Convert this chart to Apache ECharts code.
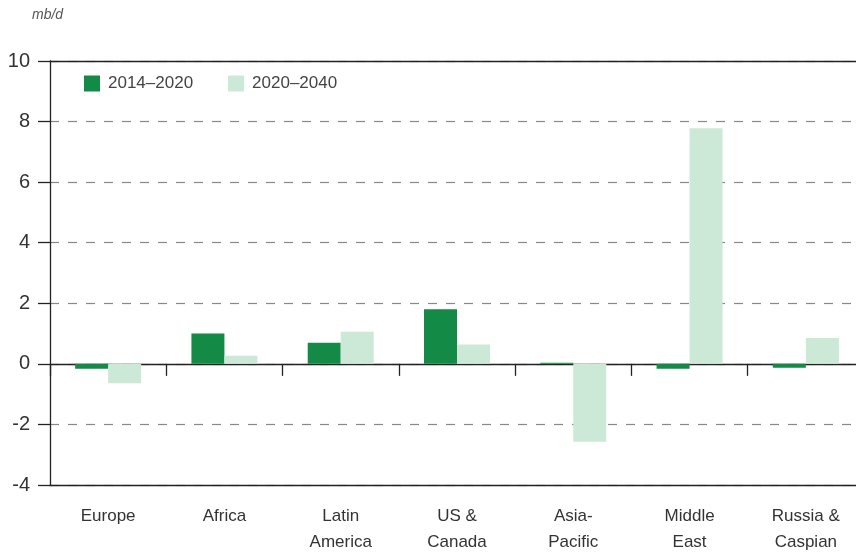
<!DOCTYPE html>
<html><head><meta charset="utf-8">
<script src="https://cdn.jsdelivr.net/npm/echarts@6/dist/echarts.min.js"></script>
<style>html,body{margin:0;padding:0;background:#fff}#c{width:856px;height:553px}</style>
</head><body><div id="c"></div>
<script>
const categories = ['Europe', 'Africa', 'Latin\nAmerica', 'US &\nCanada', 'Asia-\nPacific', 'Middle\nEast', 'Russia &\nCaspian'];
const seriesNames = ['2014–2020', '2020–2040'];
const values2014_2020 = [-0.16, 1.0, 0.7, 1.8, 0.04, -0.16, -0.13];
const values2020_2040 = [-0.64, 0.27, 1.06, 0.64, -2.57, 7.78, 0.85];
const yTicks = {min: -4, max: 10, interval: 2};
const unitLabel = 'mb/d';

const chart = echarts.init(document.getElementById('c'), null, {renderer: 'canvas'});
const font = 'Liberation Sans';
chart.setOption({
  animation: false,
  grid: {left: 50, top: 61, width: 814, height: 424, outerBoundsMode: 'none', containLabel: false},
  title: {text: unitLabel, left: 32, top: 8, padding: 0, textStyle: {fontFamily: font, fontStyle: 'italic', fontWeight: 'normal', fontSize: 14, color: '#555'}},
  legend: {
    left: 84, top: 75, padding: 0, itemWidth: 16, itemHeight: 16, itemGap: 35,
    icon: 'rect',
    textStyle: {fontFamily: font, fontSize: 17, color: '#444', padding: [0, 0, 0, 3]},
    data: seriesNames
  },
  xAxis: [
    {type: 'category', data: categories, axisLine: {onZero: true, lineStyle: {color: '#222', width: 1.3}},
     axisTick: {show: true, length: 12, lineStyle: {color: '#222', width: 1.3}}, axisLabel: {show: false}},
    {type: 'category', data: categories, position: 'bottom', axisLine: {onZero: false, lineStyle: {color: '#222', width: 1.3}},
     axisTick: {show: false},
     axisLabel: {show: true, margin: 18, fontFamily: font, fontSize: 17, color: '#333', lineHeight: 26, verticalAlign: 'top'}},
    {type: 'category', data: categories, position: 'top', axisLine: {onZero: false, lineStyle: {color: '#222', width: 1.3}},
     axisTick: {show: false}, axisLabel: {show: false}}
  ],
  yAxis: {
    type: 'value', min: yTicks.min, max: yTicks.max, interval: yTicks.interval,
    axisLine: {show: true, lineStyle: {color: '#222', width: 1.3}},
    axisTick: {show: true, length: 12, lineStyle: {color: '#222', width: 1.3}},
    axisLabel: {fontFamily: font, fontSize: 20, color: '#333', margin: 20},
    splitLine: {show: true, lineStyle: {color: '#888', type: [9, 9], width: 1.2}}
  },
  series: [
    {name: seriesNames[0], type: 'bar', xAxisIndex: 0, data: values2014_2020, barWidth: 33, barGap: '0%',
     itemStyle: {color: '#138a45'}},
    {name: seriesNames[1], type: 'bar', xAxisIndex: 0, data: values2020_2040, barWidth: 33, barGap: '0%',
     itemStyle: {color: '#cce8d6'}}
  ]
});
</script></body></html>
